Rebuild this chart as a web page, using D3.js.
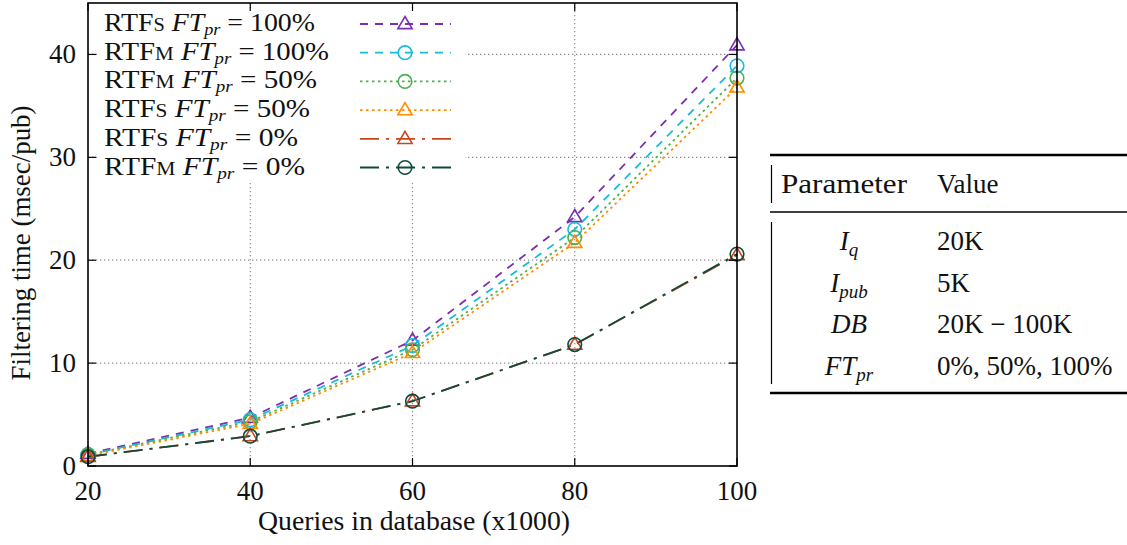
<!DOCTYPE html>
<html>
<head>
<meta charset="utf-8">
<script src="https://cdn.jsdelivr.net/npm/d3@7"></script>
<style>
  html, body { margin: 0; padding: 0; background: #fff; }
  svg { display: block; }
  text { font-family: "Liberation Serif", "DejaVu Serif", serif; fill: #111; }
</style>
</head>
<body>
<svg id="chart" width="1127" height="545"></svg>
<script>
// Queries in the database (thousands)
const queries = [20, 40, 60, 80, 100];

// Filtering time per publication (msec) for each configuration
const rtfs100 = [1.2, 4.7, 12.2, 24.2, 40.9];
const rtfm100 = [1.1, 4.5, 11.7, 23.0, 38.9];
const rtfm50  = [1.1, 4.3, 11.3, 22.2, 37.7];
const rtfs50  = [1.0, 4.1, 11.0, 21.7, 36.8];
const rtfs0   = [0.9, 2.9, 6.3, 11.8, 20.5];
const rtfm0   = [0.9, 2.9, 6.3, 11.8, 20.6];

// Legend entries: variant letter (small caps) and FT_pr percentage
const seriesVariant = ["S", "M", "M", "S", "S", "M"];
const seriesPercent = ["100%", "100%", "50%", "50%", "0%", "0%"];

const xTicks = [20, 40, 60, 80, 100];
const yTicks = [0, 10, 20, 30, 40];

// Parameter table
const paramNames  = [["I", "q"], ["I", "pub"], ["DB", ""], ["FT", "pr"]];
const paramValues = ["20K", "5K", "20K \u2212 100K", "0%, 50%, 100%"];

const seriesData = [rtfs100, rtfm100, rtfm50, rtfs50, rtfs0, rtfm0];
const styles = [
  { color: "#7a2fae", dash: "8,7",        marker: "tri" },
  { color: "#17bcdc", dash: "8,7",        marker: "circ" },
  { color: "#4cb050", dash: "2.5,3.5",    marker: "circ" },
  { color: "#ff8c00", dash: "2.5,3.5",    marker: "tri" },
  { color: "#c8471e", dash: "19,7,3,7",   marker: "tri" },
  { color: "#0f4a3c", dash: "19,7,3,7",   marker: "circ" }
];

const FS = 27;

const svg = d3.select("#chart");
const m = { left: 88, top: 3, right: 737, bottom: 466 };

const x = d3.scaleLinear().domain([20, 100]).range([m.left, m.right]);
const y = d3.scaleLinear().domain([0, 45]).range([m.bottom, m.top]);

// dotted grid
const grid = svg.append("g");
grid.selectAll("line.gx").data(xTicks.slice(1, -1)).join("line")
  .attr("x1", d => x(d)).attr("x2", d => x(d))
  .attr("y1", m.top).attr("y2", m.bottom)
  .attr("stroke", "#8a8a8a").attr("stroke-width", 1.2).attr("stroke-dasharray", "1.3,2.7");
grid.selectAll("line.gy").data(yTicks.slice(1)).join("line")
  .attr("y1", d => y(d)).attr("y2", d => y(d))
  .attr("x1", m.left).attr("x2", m.right)
  .attr("stroke", "#8a8a8a").attr("stroke-width", 1.2).attr("stroke-dasharray", "1.3,2.7");

// series lines (straight segments between measurements)
const line = d3.line().x((d, i) => x(queries[i])).y(d => y(d));

function drawMarker(g, type, cx, cy, color) {
  if (type === "tri") {
    const r = 7.5;
    g.append("path")
      .attr("d", `M${cx},${cy - r} L${cx + r * 0.95},${cy + r * 0.62} L${cx - r * 0.95},${cy + r * 0.62} Z`)
      .attr("fill", "none").attr("stroke", color).attr("stroke-width", 1.6);
  } else {
    g.append("circle").attr("cx", cx).attr("cy", cy).attr("r", 6.8)
      .attr("fill", "none").attr("stroke", color).attr("stroke-width", 1.6);
  }
}

const plot = svg.append("g");
seriesData.forEach((vals, s) => {
  const st = styles[s];
  plot.append("path").datum(vals).attr("d", line)
    .attr("fill", "none").attr("stroke", st.color).attr("stroke-width", 1.8)
    .attr("stroke-dasharray", st.dash);
});
seriesData.forEach((vals, s) => {
  const st = styles[s];
  vals.forEach((v, i) => drawMarker(plot, st.marker, x(queries[i]), y(v), st.color));
});

// legend box
const lg = svg.append("g");
lg.append("rect").attr("x", 97).attr("y", 8).attr("width", 368).attr("height", 174).attr("fill", "#fff");
seriesData.forEach((vals, s) => {
  const st = styles[s];
  const ly = 24 + s * 28.7;
  lg.append("line").attr("x1", 360).attr("x2", 451).attr("y1", ly).attr("y2", ly)
    .attr("stroke", st.color).attr("stroke-width", 1.8).attr("stroke-dasharray", st.dash);
  drawMarker(lg, st.marker, 405, ly, st.color);
  const t = lg.append("text").attr("x", 104).attr("y", ly + 7).attr("font-size", 26)
    .attr("textLength", [213, 227, 215, 208, 196, 203][s] - 2).attr("lengthAdjust", "spacingAndGlyphs");
  t.append("tspan").text("RTF");
  t.append("tspan").attr("font-size", 19).text(seriesVariant[s]);
  t.append("tspan").text(" ");
  t.append("tspan").attr("font-style", "italic").text("FT");
  t.append("tspan").attr("font-style", "italic").attr("font-size", 17).attr("dy", 4).text("pr");
  t.append("tspan").attr("dy", -4).text(" = " + seriesPercent[s]);
});

// axes frame and ticks
const ax = svg.append("g");
ax.append("rect").attr("x", m.left).attr("y", m.top)
  .attr("width", m.right - m.left).attr("height", m.bottom - m.top)
  .attr("fill", "none").attr("stroke", "#000").attr("stroke-width", 1.6);
yTicks.forEach(v => {
  ax.append("line").attr("x1", m.left).attr("x2", m.left + 8).attr("y1", y(v)).attr("y2", y(v)).attr("stroke", "#000").attr("stroke-width", 1.2);
  ax.append("line").attr("x1", m.right).attr("x2", m.right - 8).attr("y1", y(v)).attr("y2", y(v)).attr("stroke", "#000").attr("stroke-width", 1.2);
  ax.append("text").attr("x", 76).attr("y", y(v) + 9).attr("text-anchor", "end").attr("font-size", FS).text(v);
});
xTicks.forEach(v => {
  ax.append("line").attr("x1", x(v)).attr("x2", x(v)).attr("y1", m.bottom).attr("y2", m.bottom - 8).attr("stroke", "#000").attr("stroke-width", 1.2);
  ax.append("line").attr("x1", x(v)).attr("x2", x(v)).attr("y1", m.top).attr("y2", m.top + 8).attr("stroke", "#000").attr("stroke-width", 1.2);
  ax.append("text").attr("x", x(v)).attr("y", 500).attr("text-anchor", "middle").attr("font-size", FS).text(v);
});
ax.append("text").attr("x", 414).attr("y", 530).attr("text-anchor", "middle")
  .attr("font-size", FS).attr("textLength", 312).attr("lengthAdjust", "spacingAndGlyphs")
  .text("Queries in database (x1000)");
ax.append("text").attr("transform", "translate(30,243) rotate(-90)").attr("text-anchor", "middle")
  .attr("font-size", FS).attr("textLength", 275).attr("lengthAdjust", "spacingAndGlyphs")
  .text("Filtering time (msec/pub)");

// parameter table
const tb = svg.append("g");
tb.append("line").attr("x1", 770).attr("x2", 1127).attr("y1", 155).attr("y2", 155).attr("stroke", "#000").attr("stroke-width", 2.4);
tb.append("line").attr("x1", 770).attr("x2", 1127).attr("y1", 212).attr("y2", 212).attr("stroke", "#000").attr("stroke-width", 1.5);
tb.append("line").attr("x1", 770).attr("x2", 1127).attr("y1", 393).attr("y2", 393).attr("stroke", "#000").attr("stroke-width", 2.4);
tb.append("line").attr("x1", 771.5).attr("x2", 771.5).attr("y1", 165).attr("y2", 203).attr("stroke", "#000").attr("stroke-width", 1.2);
tb.append("line").attr("x1", 771.5).attr("x2", 771.5).attr("y1", 222).attr("y2", 384).attr("stroke", "#000").attr("stroke-width", 1.2);
tb.append("text").attr("x", 781).attr("y", 193).attr("font-size", FS)
  .attr("textLength", 126).attr("lengthAdjust", "spacingAndGlyphs").text("Parameter");
tb.append("text").attr("x", 937).attr("y", 193).attr("font-size", FS).text("Value");
paramNames.forEach((p, i) => {
  const by = 250 + i * 41.5;
  const t = tb.append("text").attr("x", 849).attr("y", by).attr("text-anchor", "middle").attr("font-size", FS).attr("font-style", "italic");
  t.append("tspan").text(p[0]);
  if (p[1]) {
    t.append("tspan").attr("font-size", 19).attr("dy", 6).text(p[1]);
  }
  tb.append("text").attr("x", 937).attr("y", by).attr("font-size", FS).text(paramValues[i]);
});
</script>
</body>
</html>
